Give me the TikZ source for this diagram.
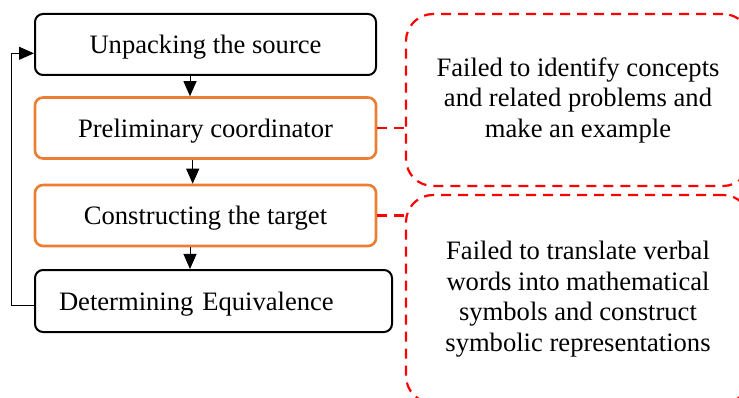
\documentclass[tikz,border=0pt]{standalone}
\usepackage{fontspec}
\setmainfont{Liberation Serif}
\usetikzlibrary{arrows.meta,calc}
\definecolor{stageorange}{HTML}{ED7D31}
\definecolor{faultred}{HTML}{FF0000}
\tikzset{
  stage/.style={draw, rounded corners=8pt, line width=2pt, minimum width=341pt,
    minimum height=61pt, inner sep=0pt, text height=19pt, text depth=0pt,
    font=\fontsize{26.6}{30.5}\selectfont},
  hot/.style={stage, draw=stageorange, line width=2.6pt},
  fault/.style={draw=faultred, line width=2.2pt, dash pattern=on 10pt off 7pt,
    rounded corners=27pt, minimum width=344pt, align=center, inner sep=0pt,
    font=\fontsize{26.6}{30.5}\selectfont},
  link/.style={draw=faultred, line width=2.2pt, dash pattern=on 10pt off 7pt},
  arr/.style={line width=1pt, -{Triangle[length=15pt,width=13pt]}},
}
\begin{document}
\begin{tikzpicture}[x=1pt,y=-1pt]
  \useasboundingbox (0,0) rectangle (739,398);
  \clip (0,0) rectangle (739,398);
  \fill[white] (0,0) rectangle (739,398);

  % stages of the process
  \node[stage] (b1) at (205.5,44.5) {Unpacking the source};
  \node[hot]   (b2) at (205.5,128)  {Preliminary coordinator};
  \node[hot]   (b3) at (205.5,215.5) {Constructing the target};
  \node[stage, minimum width=357pt, minimum height=62pt, text width=309pt,
        inner xsep=24pt, align=left] (b4) at (213.5,301) {Determining Equivalence};

  % difficulties observed
  \node[fault, minimum height=172pt] (rb1) at (578,100)
    {Failed to identify concepts\\and related problems and\\make an example};
  \node[fault, minimum height=208pt] (rb2) at (578,299)
    {Failed to translate verbal\\words into mathematical\\symbols and construct\\symbolic representations};

  % flow between stages
  \draw[arr] ([xshift=-15.5pt]b1.south) -- ([xshift=-15.5pt]b2.north);
  \draw[arr] ([xshift=-12.8pt]b2.south) -- ([xshift=-12.8pt]b3.north);
  \draw[arr] ([xshift=-15.5pt]b3.south) -- ([xshift=-15.5pt]b3.south |- b4.north);
  \draw[arr] ([yshift=-4.7pt]b4.west) -- ++(-22.7,0) |- ([yshift=-8.8pt]b1.west);

  % links to the difficulties
  \draw[link] (b2.east) -- (rb1.west |- b2.east);
  \draw[link] (b3.east) -- ([xshift=6pt]rb2.west |- b3.east);
\end{tikzpicture}
\end{document}
